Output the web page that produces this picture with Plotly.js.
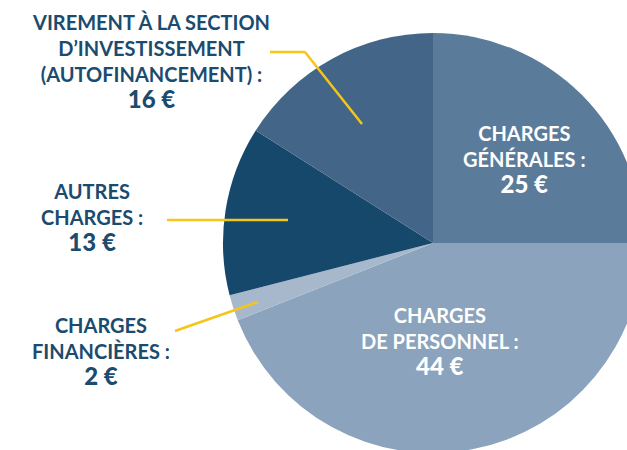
<!DOCTYPE html>
<html>
<head>
<meta charset="utf-8">
<script src="https://cdn.plot.ly/plotly-3.0.1.min.js"></script>
<style>
html,body{margin:0;padding:0;overflow:hidden;background:#fff;width:627px;height:450px;}
#chart{width:680px;height:480px;}
</style>
</head>
<body>
<div id="chart"></div>
<script>
// Data
const categories = ["Charges générales", "Charges de personnel", "Charges financières", "Autres charges", "Virement à la section d'investissement (autofinancement)"];
const values = [25, 44, 2, 13, 16];
const sliceColors = ["#5b7b9b", "#8ba3bc", "#a7b8cc", "#16486b", "#436587"];
const labelLines = [
  ["CHARGES", "GÉNÉRALES :"],
  ["CHARGES", "DE PERSONNEL :"],
  ["CHARGES", "FINANCIÈRES :"],
  ["AUTRES", "CHARGES :"],
  ["VIREMENT À LA SECTION", "D’INVESTISSEMENT", "(AUTOFINANCEMENT) :"]
];
const valueLabels = values.map(v => v + "\u00a0€");

// Layout (pixel positions on the 680x480 canvas)
const W = 680, H = 480;
const px = x => x / W, py = y => 1 - y / H;
const labelPos = [
  {x: 524, y: 159, color: "#ffffff"},
  {x: 440, y: 341, color: "#ffffff"},
  {x: 101, y: 351, color: "#1b4b6e"},
  {x: 92,  y: 218, color: "#1b4b6e"},
  {x: 151, y: 62,  color: "#1b4b6e"}
];

const annotations = labelLines.map((lines, i) => {
  const p = labelPos[i];
  const txt = lines.join("<br>") +
    "<br><span style=\"font-size:24px;font-weight:900\">" + valueLabels[i] + "</span>";
  return {
    text: txt, xref: "paper", yref: "paper", x: px(p.x), y: py(p.y),
    xanchor: "center", yanchor: "middle", align: "center", showarrow: false,
    font: {family: "Lato", size: 20, color: p.color, weight: 700}
  };
});

const yellow = "#f5c518";
const segs = [
  [270, 52, 305, 52],
  [305, 52, 362, 124],
  [167, 220, 288, 220],
  [175, 331, 258, 302]
];
const shapes = segs.map(s => ({
  type: "line", xref: "paper", yref: "paper",
  x0: px(s[0]), y0: py(s[1]), x1: px(s[2]), y1: py(s[3]),
  line: {color: yellow, width: 2.5}
}));

const cx = 433, cy = 243, r = 210;
const trace = {
  type: "pie",
  labels: categories,
  values: values,
  marker: {colors: sliceColors, line: {width: 0}},
  sort: false,
  direction: "clockwise",
  rotation: 0,
  textinfo: "none",
  hoverinfo: "label+value",
  showlegend: false,
  domain: {x: [px(cx - r), px(cx + r)], y: [py(cy + r), py(cy - r)]}
};

Plotly.newPlot("chart", [trace], {
  width: W, height: H,
  margin: {l: 0, r: 0, t: 0, b: 0},
  paper_bgcolor: "#ffffff",
  showlegend: false,
  annotations: annotations,
  shapes: shapes
}, {displayModeBar: false, staticPlot: true});
</script>
</body>
</html>
